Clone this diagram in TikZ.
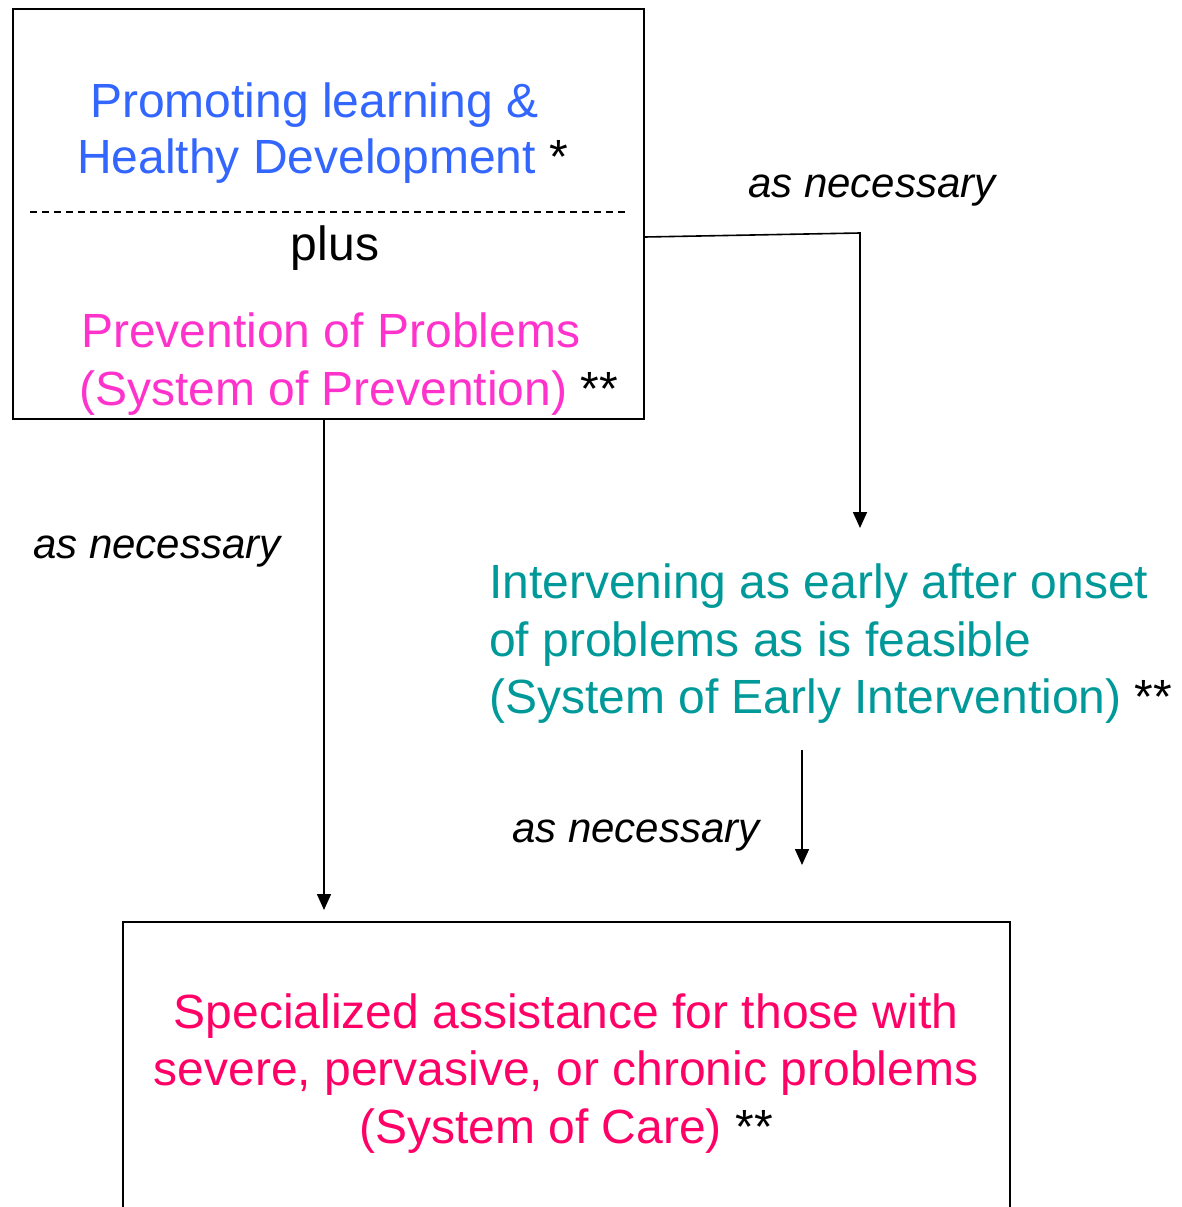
\documentclass[tikz,border=0pt]{standalone}
\usepackage{fontspec}
\setmainfont{Liberation Sans}
\usetikzlibrary{arrows.meta}

\definecolor{promote}{HTML}{3366FF}
\definecolor{prevent}{HTML}{FF33CC}
\definecolor{early}{HTML}{009999}
\definecolor{care}{HTML}{FF0066}

\begin{document}
\begin{tikzpicture}[x=1pt,y=-1pt,
  box/.style={draw, line width=1.6pt, rectangle, inner sep=0pt},
  big/.style={font=\fontsize{48}{58}\selectfont, inner sep=0pt},
  note/.style={font=\fontsize{42}{50}\selectfont\itshape, inner sep=0pt, anchor=base west},
  arr/.style={line width=1.6pt, -{Triangle[width=14pt,length=16pt]}},
  divider/.style={line width=1.2pt, dash pattern=on 7pt off 5pt}]

\useasboundingbox (0,0) rectangle (1181,1207);
\clip (0,0) rectangle (1181,1207);

% upper box: promotion plus prevention
\node[box, minimum width=631pt, minimum height=410pt] (top) at (328.5,214) {};
\coordinate (dl) at (30,212);
\coordinate (dr) at (627,212);
\draw[divider] (dl) -- (dr);
\node[big, anchor=base west, text=promote] (p1) at (90,117) {Promoting learning \&};
\node[big, anchor=base west, text=promote] (p2) at (77,173) {Healthy Development \textcolor{black}{*}};
\node[big, anchor=base] (plus) at (335,260) {plus};
\node[big, anchor=base west, text=prevent] (v1) at (81,347) {Prevention of Problems};
\node[big, anchor=base west, text=prevent] (v2) at (79,405) {(System of Prevention) \textcolor{black}{**}};

% early intervention text
\node[big, anchor=base west, text=early] (e1) at (489,598) {Intervening as early after onset};
\node[big, anchor=base west, text=early] (e2) at (489,656) {of problems as is feasible};
\node[big, anchor=base west, text=early] (e3) at (489,713) {(System of Early Intervention) \textcolor{black}{**}};

% lower box: system of care
\node[box, minimum width=887pt, minimum height=330pt] (bottom) at (566.5,1087) {};
\node[big, anchor=base, text=care] (c1) at (566,1028) {Specialized assistance for those with};
\node[big, anchor=base, text=care] (c2) at (566,1085) {severe, pervasive, or chronic problems};
\node[big, anchor=base, text=care] (c3) at (566,1143) {(System of Care) \textcolor{black}{**}};

% connector end points
\coordinate (bend) at (860,233);
\coordinate (earlytip) at (860,528);
\coordinate (lefttip) at (324,910);
\coordinate (midstart) at (802,750);
\coordinate (midtip) at (802,865);

% connectors
\draw[arr] ([yshift=-23pt]top.east) -- (bend) -- (earlytip);
\draw[arr] (top.south -| lefttip) -- (lefttip);
\draw[arr] (midstart) -- (midtip);

% labels
\node[note] (l1) at (748,197) {as necessary};
\node[note] (l2) at (33,558) {as necessary};
\node[note] (l3) at (512,842) {as necessary};

\end{tikzpicture}
\end{document}
